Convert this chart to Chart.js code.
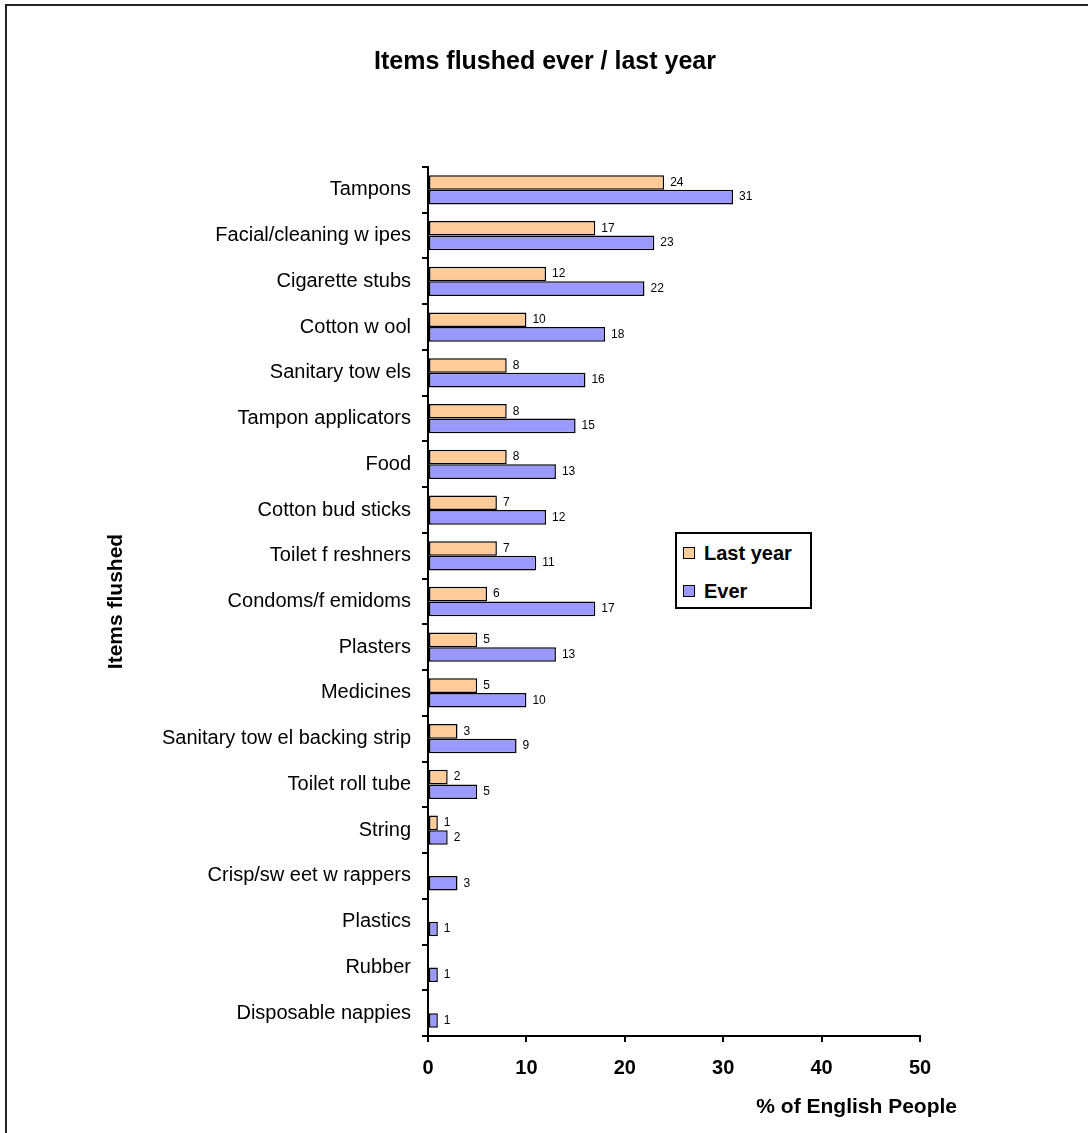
<!DOCTYPE html>
<html>
<head>
<meta charset="utf-8">
<title>Items flushed ever / last year</title>
<script src="https://cdn.jsdelivr.net/npm/chart.js@4.4.1/dist/chart.umd.min.js"></script>
<style>
  html, body { margin: 0; padding: 0; background: #fff; }
  body {
    width: 1088px; height: 1133px; position: relative; overflow: hidden;
    font-family: "Liberation Sans", Arial, sans-serif; color: #000;
  }
  #frame {
    position: absolute; left: 5px; top: 4px; width: 1200px; height: 1200px;
    border-left: 2px solid #222; border-top: 2px solid #222;
  }
  #chart-title {
    position: absolute; left: 0; top: 45px; width: 1090px; line-height: 30px;
    text-align: center; font-weight: bold; font-size: 25px;
  }
  #chart { position: absolute; left: 0; top: 0; }
  #legend {
    position: absolute; left: 675px; top: 532px; width: 133px; height: 73px;
    border: 2px solid #000; background: #fff;
  }
  #legend .item {
    position: absolute; left: 6px; height: 24px; line-height: 24px;
    font-weight: bold; font-size: 20px; white-space: nowrap;
  }
  #legend .swatch {
    display: inline-block; width: 10px; height: 10px; border: 1px solid #000;
    margin-right: 9px; vertical-align: 1px;
  }
</style>
</head>
<body>
<div id="frame"></div>
<canvas id="chart" width="1088" height="1133"></canvas>
<div id="chart-title">Items flushed ever / last year</div>
<div id="legend"></div>

<script>
const items = [
  "Tampons", "Facial/cleaning w ipes", "Cigarette stubs", "Cotton w ool",
  "Sanitary tow els", "Tampon applicators", "Food", "Cotton bud sticks",
  "Toilet f reshners", "Condoms/f emidoms", "Plasters", "Medicines",
  "Sanitary tow el backing strip", "Toilet roll tube", "String",
  "Crisp/sw eet w rappers", "Plastics", "Rubber", "Disposable nappies"
];
const lastYear = [24, 17, 12, 10, 8, 8, 8, 7, 7, 6, 5, 5, 3, 2, 1, null, null, null, null];
const ever = [31, 23, 22, 18, 16, 15, 13, 12, 11, 17, 13, 10, 9, 5, 2, 3, 1, 1, 1];
const xTicks = [0, 10, 20, 30, 40, 50];

const FONT = '"Liberation Sans", Arial, sans-serif';

// value printed just past the end of each bar
const valueLabels = {
  id: 'valueLabels',
  afterDatasetsDraw(chart) {
    const ctx = chart.ctx;
    ctx.save();
    ctx.font = '12px ' + FONT;
    ctx.fillStyle = '#000';
    ctx.textBaseline = 'middle';
    ctx.textAlign = 'left';
    chart.data.datasets.forEach((ds, i) => {
      chart.getDatasetMeta(i).data.forEach((bar, j) => {
        const v = ds.data[j];
        if (v == null) return;
        ctx.fillText(v, bar.x + 6, bar.y);
      });
    });
    ctx.restore();
  }
};

// x axis title sits below the ticks, running past the right end of the axis
const xAxisTitle = {
  id: 'xAxisTitle',
  afterDraw(chart) {
    const { ctx, chartArea } = chart;
    ctx.save();
    ctx.font = 'bold 21px ' + FONT;
    ctx.fillStyle = '#000';
    ctx.textAlign = 'right';
    ctx.textBaseline = 'middle';
    ctx.fillText('% of English People', chartArea.right + 37, chartArea.bottom + 71);
    ctx.restore();
  }
};

const chart = new Chart(document.getElementById('chart'), {
  type: 'bar',
  data: {
    labels: items,
    datasets: [
      {
        label: 'Last year',
        data: lastYear,
        backgroundColor: '#FFCC99',
        borderColor: '#000',
        borderWidth: 1.5,
        borderSkipped: false
      },
      {
        label: 'Ever',
        data: ever,
        backgroundColor: '#9999FF',
        borderColor: '#000',
        borderWidth: 1.5,
        borderSkipped: false
      }
    ]
  },
  options: {
    indexAxis: 'y',
    responsive: false,
    animation: false,
    devicePixelRatio: 1,
    datasets: { bar: { categoryPercentage: 0.64, barPercentage: 1 } },
    layout: { padding: { left: 101, right: 168, top: 167, bottom: 0 } },
    plugins: {
      legend: { display: false },
      tooltip: { enabled: false }
    },
    scales: {
      x: {
        min: 0,
        max: 50,
        afterBuildTicks(scale) {
          scale.ticks = xTicks.map(v => ({ value: v }));
        },
        afterFit(scale) { scale.height = 97; },
        grid: { drawOnChartArea: false, drawTicks: true, tickLength: 6, color: '#000', lineWidth: 2 },
        border: { display: true, color: '#000', width: 2 },
        ticks: { color: '#000', padding: 14, font: { family: FONT, size: 20, weight: 'bold' } }
      },
      y: {
        afterFit(scale) { scale.width = 327; },
        grid: { drawOnChartArea: false, drawTicks: true, tickLength: 6, color: '#000', lineWidth: 2, offset: true },
        border: { display: true, color: '#000', width: 2 },
        ticks: { color: '#000', padding: 11, autoSkip: false, font: { family: FONT, size: 20 } },
        title: {
          display: true,
          text: 'Items flushed',
          color: '#000',
          padding: { top: 3, bottom: 0 },
          font: { family: FONT, size: 21, weight: 'bold' }
        }
      }
    }
  },
  plugins: [valueLabels, xAxisTitle]
});

// legend box inside the plot, built from the datasets
const legend = document.getElementById('legend');
chart.data.datasets.forEach((ds, i) => {
  const item = document.createElement('div');
  item.className = 'item';
  item.style.top = (7 + i * 38) + 'px';
  item.innerHTML = `<span class="swatch" style="background:${ds.backgroundColor}"></span>${ds.label}`;
  legend.appendChild(item);
});
</script>
</body>
</html>
